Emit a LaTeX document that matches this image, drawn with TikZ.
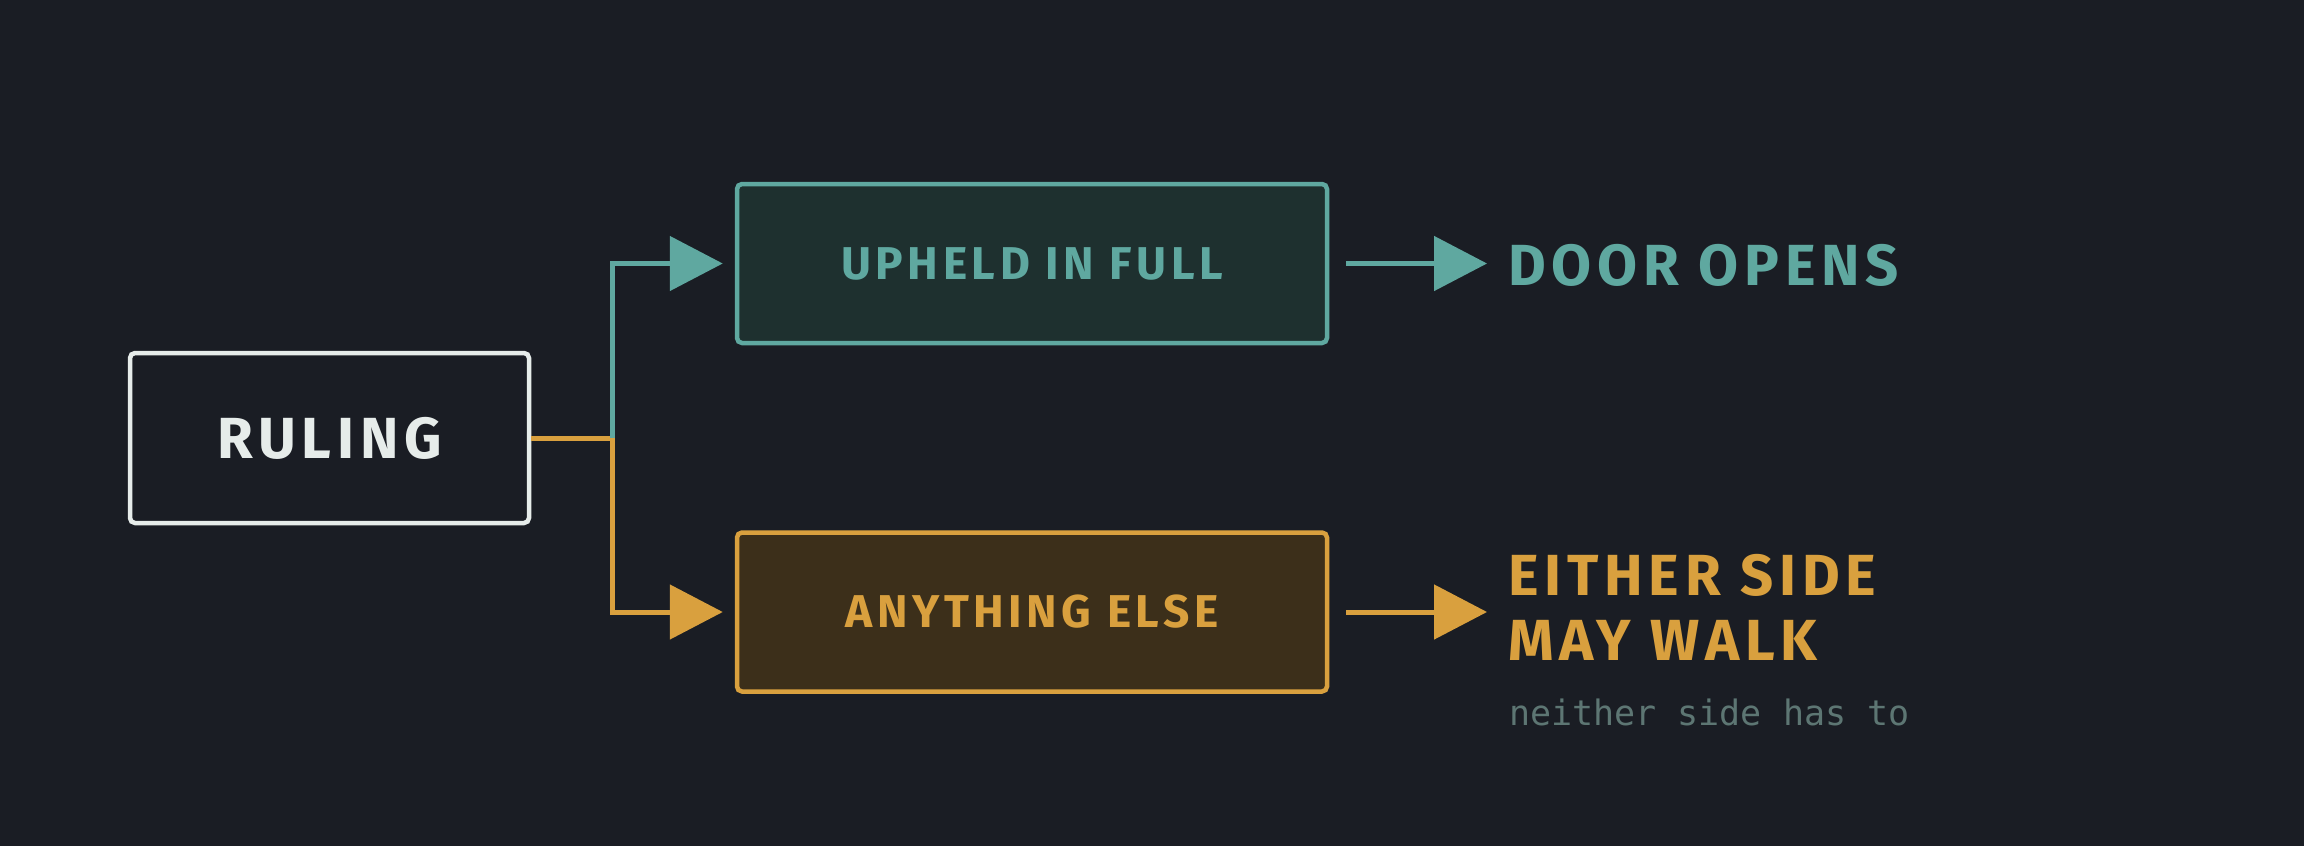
\documentclass[tikz,border=0pt]{standalone}
\usepackage{fontspec}
\setmainfont{Fira Sans}
\newfontfamily\headfont{Fira Sans}[LetterSpace=10]
\newfontfamily\notefont{DejaVu Sans Mono}
\usetikzlibrary{arrows.meta}
\definecolor{bgcol}{HTML}{1A1D24}
\definecolor{tealcol}{HTML}{5FA8A0}
\definecolor{tealfill}{HTML}{1E302F}
\definecolor{ambercol}{HTML}{D9A03E}
\definecolor{amberfill}{HTML}{3C2F1A}
\definecolor{chalk}{HTML}{E6ECEA}
\definecolor{notecol}{HTML}{5D7673}
\begin{document}
\begin{tikzpicture}[x=1pt,y=-1pt,
  box/.style={draw,rounded corners=5pt,line width=4.5pt,inner sep=0pt,
    minimum width=590pt,minimum height=159pt},
  big/.style={font=\headfont\bfseries\fontsize{58pt}{65pt}\selectfont},
  small/.style={font=\headfont\bfseries\fontsize{46pt}{50pt}\selectfont},
  link/.style={line width=5pt,-{Triangle[length=53pt,width=54pt]}}]
\fill[bgcol] (0,0) rectangle (2304,846);
%\draw[step=100,very thin,gray] (0,0) grid (2304,846);
\node[box,big,draw=chalk,text=chalk,minimum width=399pt,minimum height=170pt] (ruling) at (329.5,438) {RULING};
\node[box,small,draw=tealcol,fill=tealfill,text=tealcol] (upheld) at (1032,263.5) {UPHELD IN FULL};
\node[box,small,draw=ambercol,fill=amberfill,text=ambercol] (other) at (1032,612) {ANYTHING ELSE};
\node[big,text=tealcol,anchor=west,inner sep=0pt] (opens) at (1508,265) {DOOR OPENS};
\node[big,text=ambercol,anchor=west,inner sep=0pt,align=left] (walk) at (1508,607) {EITHER SIDE\\MAY WALK};
\node[text=notecol,anchor=base west,inner sep=0pt,font=\notefont\fontsize{35pt}{40pt}\selectfont] (note) at (1509,725) {neither side has to};
\coordinate (split) at (612,438);
\draw[link,ambercol,shorten >=12pt] (ruling.east) -- (split) |- (other.west);
\draw[link,tealcol,shorten >=12pt] (split) |- (upheld.west);
\draw[link,tealcol,shorten <=17pt,shorten >=21pt] (upheld.east) -- (upheld.east -| opens.west);
\draw[link,ambercol,shorten <=17pt,shorten >=21pt] (other.east) -- (other.east -| walk.west);
\end{tikzpicture}
\end{document}
